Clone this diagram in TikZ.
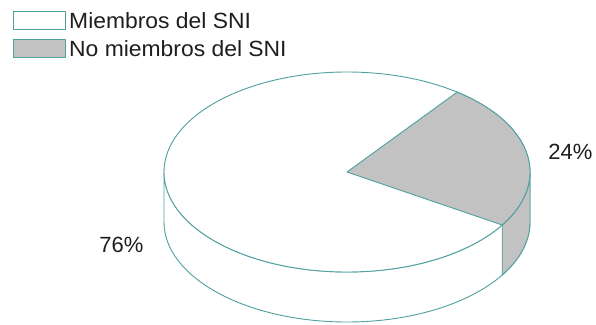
\documentclass[tikz,border=0pt]{standalone}
\usepackage{fontspec}
\setmainfont{Liberation Sans}
\definecolor{edge}{RGB}{80,160,160}
\definecolor{slice}{RGB}{194,194,194}
\definecolor{txt}{RGB}{30,30,30}
\begin{document}
\begin{tikzpicture}[x=1pt,y=1pt,
  outl/.style={draw=edge,line width=0.9pt,line join=round},
  legbox/.style={outl,minimum width=52pt,minimum height=18pt,inner sep=0pt},
  lab/.style={text=txt,font=\fontsize{22}{26}\selectfont,inner sep=0pt}]
\useasboundingbox (0,0) rectangle (596,324);
\fill[white] (0,0) rectangle (596,324);
% legend
\node[legbox,fill=white] (b1) at (39,303.5) {};
\node[legbox,fill=slice] (b2) at (39,275.5) {};
\node[lab,anchor=west,xscale=1.04,transform shape] (t1) at (69,303.5) {Miembros del SNI};
\node[lab,anchor=west,xscale=1.04,transform shape] (t2) at (69,275.5) {No miembros del SNI};
% pie
\def\cx{347}\def\cy{152}\def\rx{183}\def\ry{100}\def\dz{50}
% white side
\path[outl,fill=white] (\cx-\rx,\cy) -- (\cx-\rx,\cy-\dz)
  arc[start angle=180,end angle=360,x radius=\rx,y radius=\ry] -- (\cx+\rx,\cy)
  arc[start angle=0,end angle=-180,x radius=\rx,y radius=\ry] -- cycle;
% gray side
\path[outl,fill=slice] ({\cx+\rx*cos(-32)},{\cy+\ry*sin(-32)}) -- ({\cx+\rx*cos(-32)},{\cy+\ry*sin(-32)-\dz})
  arc[start angle=-32,end angle=0,x radius=\rx,y radius=\ry] -- (\cx+\rx,\cy)
  arc[start angle=0,end angle=-32,x radius=\rx,y radius=\ry] -- cycle;
% top
\path[outl,fill=white] (\cx,\cy) ellipse[x radius=\rx,y radius=\ry];
\path[outl,fill=slice] (\cx,\cy) -- ({\cx+\rx*cos(-32)},{\cy+\ry*sin(-32)})
  arc[start angle=-32,end angle=53,x radius=\rx,y radius=\ry] -- cycle;
% labels
\node[lab] (p24) at (570.5,172.5) {24\%};
\node[lab] (p76) at (121.5,79) {76\%};
\end{tikzpicture}
\end{document}
